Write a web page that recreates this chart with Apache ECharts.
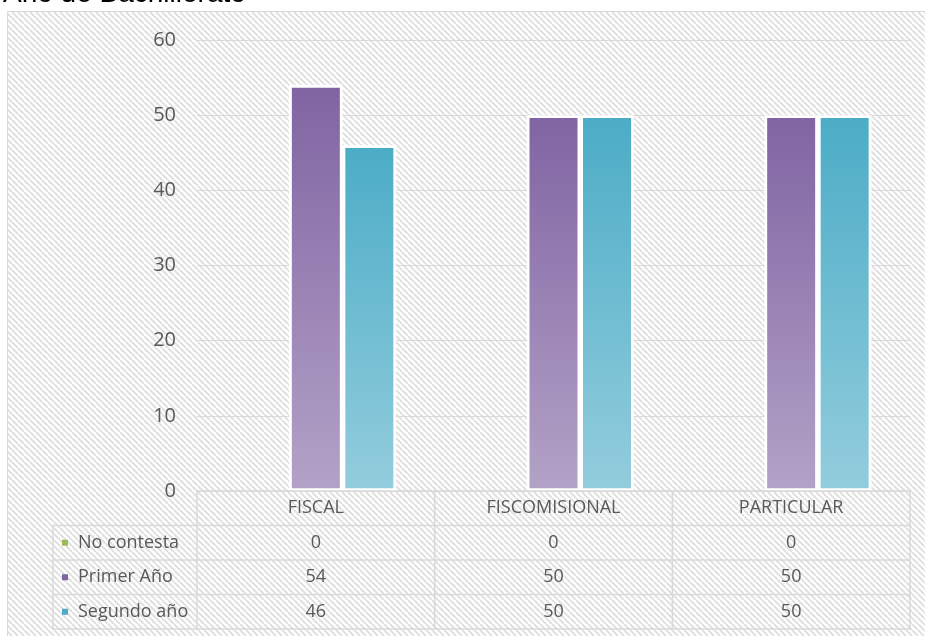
<!DOCTYPE html>
<html>
<head>
<meta charset="utf-8">
<script src="https://cdn.jsdelivr.net/npm/echarts@6/dist/echarts.min.js"></script>
<style>
  html, body { margin: 0; padding: 0; background: #fff; }
  #chart { width: 925px; height: 636px; }
</style>
</head>
<body>
<div id="chart"></div>
<script>
// Survey results by school type and year
const categories = ['FISCAL', 'FISCOMISIONAL', 'PARTICULAR'];
const seriesNames = ['No contesta', 'Primer Año', 'Segundo año'];
const noContesta = [0, 0, 0];
const primerAnio = [54, 50, 50];
const segundoAnio = [46, 50, 50];
const yMin = 0, yMax = 60, yStep = 10;
const chartTitle = 'Año de Bachillerato';

const textGray = '#595959';
const lineGray = '#d9d9d9';
const baseFont = '"Open Sans", "Noto Sans", sans-serif';

function grad(top, bottom) {
  return new echarts.graphic.LinearGradient(0, 0, 0, 1, [
    { offset: 0, color: top },
    { offset: 1, color: bottom }
  ]);
}
const swatch = ['#9BBB59', '#8064A2', '#4BACC6'];
const fills = [
  grad('#9BBB59', '#C3D69B'),
  grad('#8064A2', '#B3A2C7'),
  grad('#4BACC6', '#93CDDD')
];

// diagonal hatch tile for the chart area background
function hatchTile() {
  const s = 6;
  const c = document.createElement('canvas');
  c.width = s; c.height = s;
  const g = c.getContext('2d');
  g.fillStyle = '#ffffff';
  g.fillRect(0, 0, s, s);
  g.strokeStyle = '#e0e0e0';
  g.lineWidth = 2;
  g.beginPath();
  for (let k = -1; k <= 1; k++) {
    g.moveTo(0, k * s);
    g.lineTo(s, s + k * s);
  }
  g.stroke();
  return c;
}

const chart = echarts.init(document.getElementById('chart'), null, { renderer: 'canvas' });

const seriesData = [noContesta, primerAnio, segundoAnio];

chart.setOption({
  animation: false,
  grid: { left: 197, right: 15, top: 40, bottom: 145 },
  xAxis: {
    type: 'category',
    data: categories,
    axisLine: { show: false },
    axisTick: { show: false },
    axisLabel: {
      margin: 17,
      verticalAlign: 'middle',
      fontSize: 18,
      fontFamily: baseFont,
      color: textGray
    }
  },
  yAxis: {
    type: 'value',
    min: yMin, max: yMax, interval: yStep,
    axisLine: { show: false },
    axisTick: { show: false },
    axisLabel: { margin: 21, fontSize: 20, fontFamily: baseFont, color: textGray },
    splitLine: { lineStyle: { color: lineGray, width: 1 } }
  },
  series: seriesNames.map((name, i) => ({
    name: name,
    type: 'bar',
    data: seriesData[i],
    barWidth: 53.5,
    barGap: '0%',
    itemStyle: {
      color: fills[i],
      borderColor: '#ffffff',
      borderWidth: i === 0 ? 0 : 2.75
    }
  }))
});

// data table under the plot, aligned to the category axis
function buildTable() {
  const c0 = chart.convertToPixel({ xAxisIndex: 0 }, categories[0]);
  const c1 = chart.convertToPixel({ xAxisIndex: 0 }, categories[1]);
  const step = c1 - c0;
  const x0 = c0 - step / 2;
  const xEnd = x0 + step * categories.length;
  const yTop = chart.convertToPixel({ yAxisIndex: 0 }, yMin);
  const rowH = 34.5;
  const labelLeft = 53;
  const rowsTop = yTop + rowH;
  const yBottom = yTop + rowH * (seriesNames.length + 1);

  const els = [];
  els.push({
    type: 'rect', z: -10, silent: true,
    shape: { x: 7.5, y: 11.5, width: 960, height: 660 },
    style: { fill: { image: hatchTile(), repeat: 'repeat' }, stroke: lineGray, lineWidth: 1 }
  });
  els.push({
    type: 'text', z: 10, silent: true,
    style: {
      text: chartTitle, x: 3, y: 8,
      font: 'normal 28px "Liberation Sans", Arial, sans-serif',
      fill: '#000000', align: 'left', verticalAlign: 'bottom'
    }
  });

  const line = (x1, y1, x2, y2) => ({
    type: 'line', z: 5, silent: true,
    shape: { x1: x1, y1: y1, x2: x2, y2: y2 },
    style: { stroke: lineGray, lineWidth: 1.5 }
  });
  // horizontal rules
  els.push(line(x0, yTop, xEnd, yTop));
  for (let r = 0; r <= seriesNames.length; r++) {
    const y = rowsTop + r * rowH;
    els.push(line(labelLeft, y, xEnd, y));
  }
  // vertical rules
  els.push(line(labelLeft, rowsTop, labelLeft, yBottom));
  for (let k = 0; k <= categories.length; k++) {
    const x = x0 + k * step;
    els.push(line(x, yTop, x, yBottom));
  }
  // row labels with legend swatches and the values
  seriesNames.forEach((name, r) => {
    const cy = rowsTop + r * rowH + rowH / 2;
    els.push({
      type: 'rect', z: 6, silent: true,
      shape: { x: 62, y: cy - 3, width: 6, height: 6 },
      style: { fill: swatch[r] }
    });
    els.push({
      type: 'text', z: 6, silent: true,
      style: {
        text: name, x: 78, y: cy,
        font: '18px ' + baseFont, fill: textGray,
        align: 'left', verticalAlign: 'middle'
      }
    });
    seriesData[r].forEach((v, k) => {
      els.push({
        type: 'text', z: 6, silent: true,
        style: {
          text: String(v),
          x: chart.convertToPixel({ xAxisIndex: 0 }, categories[k]), y: cy,
          font: '18px ' + baseFont, fill: textGray,
          align: 'center', verticalAlign: 'middle'
        }
      });
    });
  });
  chart.setOption({ graphic: { elements: els } });
}
buildTable();
</script>
</body>
</html>
